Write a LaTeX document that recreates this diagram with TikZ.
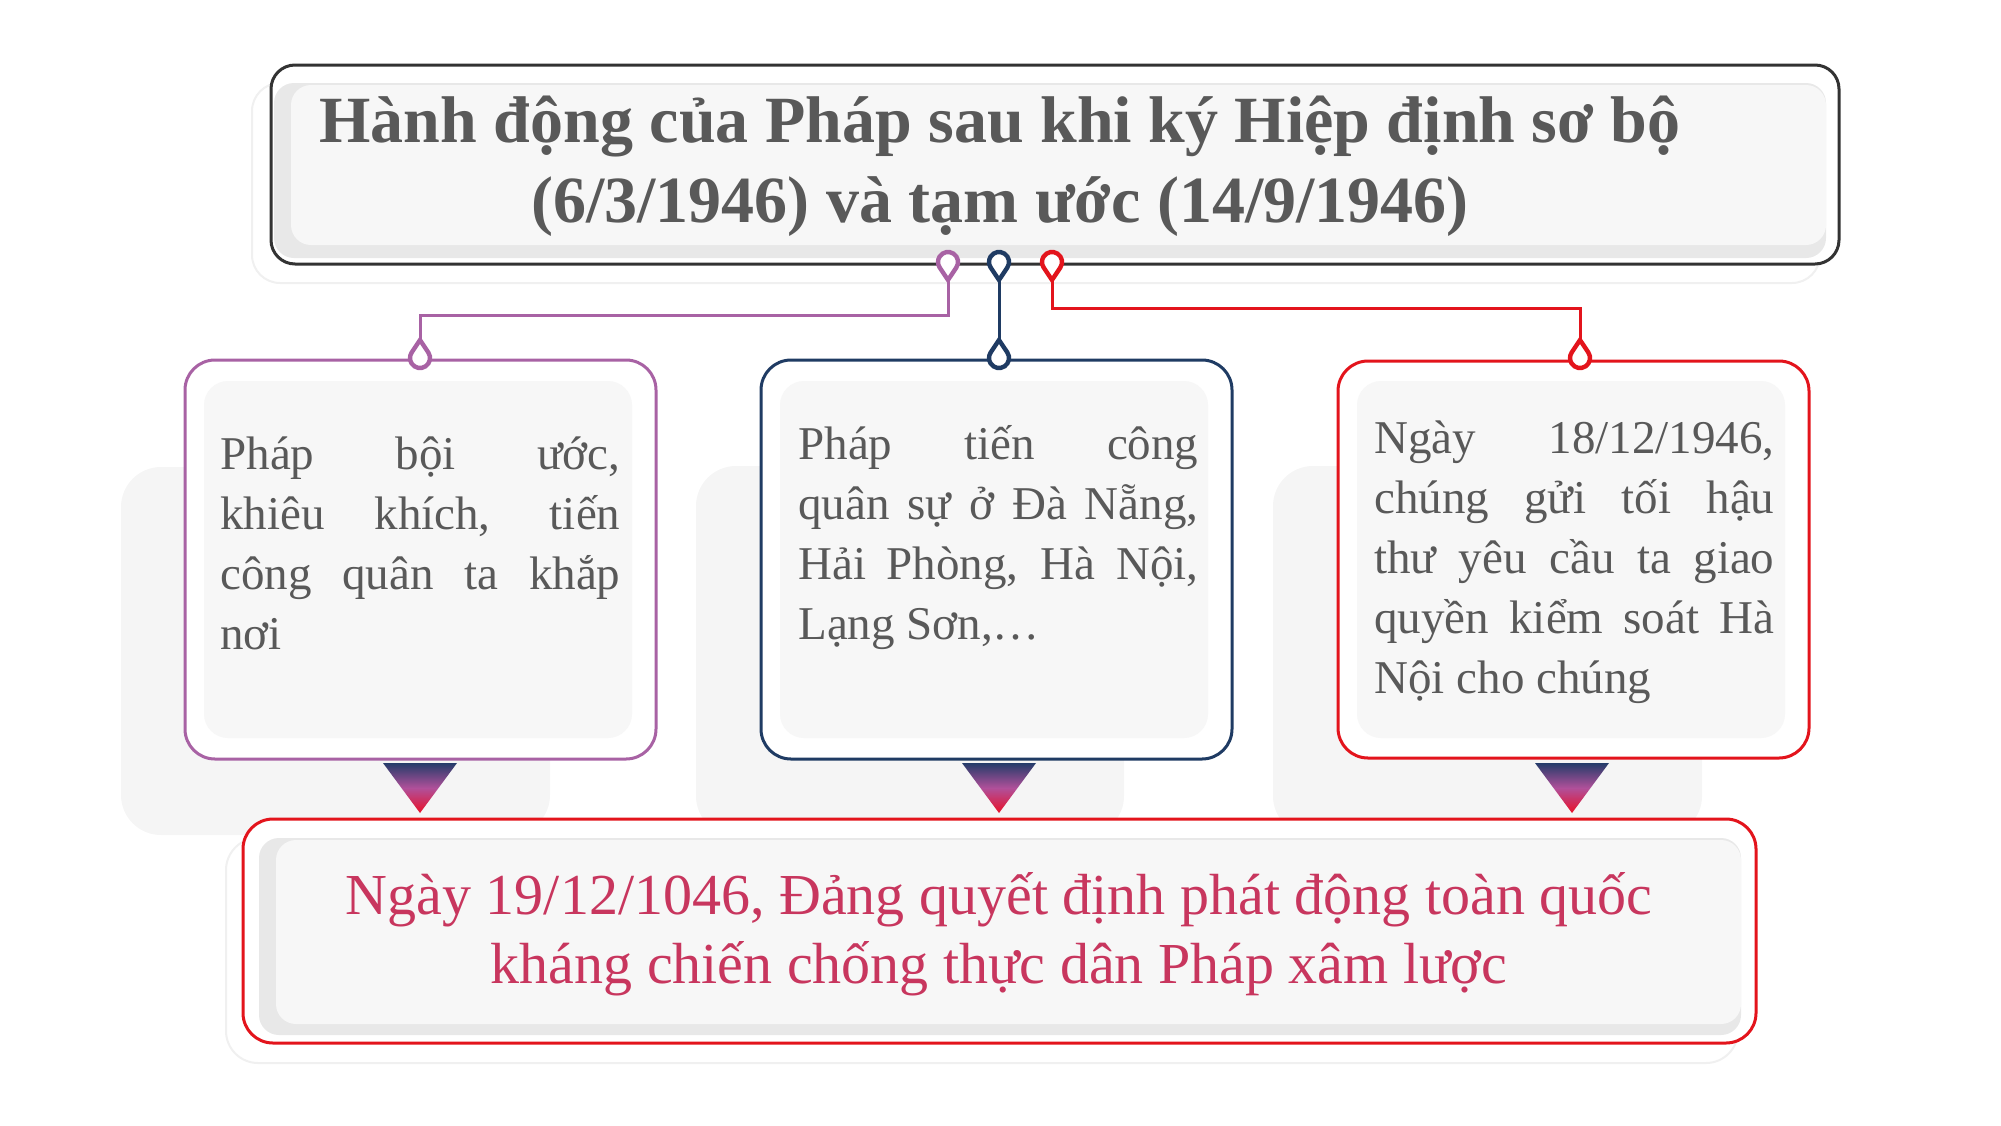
\documentclass[tikz,border=0pt]{standalone}
\usepackage{fontspec}
\setmainfont{Liberation Serif}
\usetikzlibrary{calc}
\definecolor{tgray}{HTML}{595959}
\definecolor{tcrim}{HTML}{C8365E}
\definecolor{pcol}{HTML}{A862A4}
\definecolor{ncol}{HTML}{1F3B63}
\definecolor{rcol}{HTML}{E3141C}
\definecolor{dcol}{HTML}{333333}
\definecolor{tnavy}{HTML}{243C6A}
\definecolor{tmag}{HTML}{B0509A}
\definecolor{tred}{HTML}{EA1028}
\definecolor{shd}{HTML}{F5F5F5}
\definecolor{pan}{HTML}{F7F7F7}
\definecolor{band}{HTML}{E8E8E8}
\hyphenpenalty=10000
\exhyphenpenalty=10000
\pgfdeclareverticalshading{trishade}{100bp}{color(0bp)=(tred); color(25bp)=(tred); color(50bp)=(tmag); color(75bp)=(tnavy); color(100bp)=(tnavy)}
\tikzset{
  box/.style={draw=#1, line width=1.5pt, fill=white, rounded corners=15pt, inner sep=0pt, outer sep=0pt},
  boxtext/.style={text width=200pt, align=justify, inner sep=0pt, anchor=base west, text=tgray,
    font=\fontsize{23.5}{30}\selectfont},
  conn/.style={draw=#1, line width=1.5pt},
  pics/pindown/.style={code={\draw[draw=#1, line width=2.2pt, fill=white] (0,18) -- (33.75:10) arc[start angle=33.75, end angle=-213.75, radius=10] -- cycle;}},
  pics/pinup/.style={code={\draw[draw=#1, line width=2.2pt, fill=white] (0,-18) -- (-33.75:10) arc[start angle=-33.75, end angle=213.75, radius=10] -- cycle;}},
}
\begin{document}
\hyphenpenalty=10000
\exhyphenpenalty=10000
\begin{tikzpicture}[x=0.5pt, y=-0.5pt]
\useasboundingbox (0,0) rectangle (2001,1125);
% faint shadows behind the middle row
\fill[shd, rounded corners=20pt] (121,467) rectangle (550,835);
\fill[shd, rounded corners=20pt] (696,466) rectangle (1124,836);
\fill[shd, rounded corners=20pt] (1273,466) rectangle (1702,836);
% top box
\draw[gray!12, line width=1pt, fill=white, rounded corners=14pt] (252,83) rectangle (1820,283);
\node[box=dcol, minimum width=784pt, minimum height=99.5pt, rounded corners=12pt] (top) at (1055,164.5) {};
\fill[band, rounded corners=10pt] (274,83) rectangle (1826,258);
\fill[pan, rounded corners=10pt] (291,85) rectangle (1826,245);
\node[inner sep=0pt, anchor=base, align=center, text=tgray, font=\bfseries\fontsize{33}{40}\selectfont] (ttl) at (1000,222)
  {Hành động của Pháp sau khi ký Hiệp định sơ bộ\\(6/3/1946) và tạm ước (14/9/1946)};
% middle boxes
\node[box=pcol, minimum width=235.5pt, minimum height=199.5pt] (b1) at (420.5,559.5) {};
\node[box=ncol, minimum width=235.5pt, minimum height=199.5pt] (b2) at (996.5,559.5) {};
\node[box=rcol, minimum width=235.5pt, minimum height=198.5pt] (b3) at (1573.5,559.5) {};
\fill[pan, rounded corners=12pt] (204,381) rectangle (632,738);
\fill[pan, rounded corners=12pt] (780,381) rectangle (1208,738);
\fill[pan, rounded corners=12pt] (1357,381) rectangle (1785,738);
\node[boxtext] (t1) at (220,469) {Pháp bội ước,\linebreak khiêu khích, tiến\linebreak công quân ta khắp\linebreak nơi};
\node[boxtext] (t2) at (798,459) {Pháp tiến công\linebreak quân sự ở Đà Nẵng,\linebreak Hải Phòng, Hà Nội,\linebreak Lạng Sơn,…};
\node[boxtext] (t3) at (1374,453) {Ngày 18/12/1946,\linebreak chúng gửi tối hậu\linebreak thư yêu cầu ta giao\linebreak quyền kiểm soát Hà\linebreak Nội cho chúng};
% bottom box
\draw[gray!12, line width=1pt, fill=white, rounded corners=16pt] (226,838) rectangle (1738,1063);
\node[box=rcol, minimum width=756.5pt, minimum height=112pt] (bot) at (999.5,931) {};
\fill[band, rounded corners=10pt] (259,838) rectangle (1741,1035);
\fill[pan, rounded corners=10pt] (276,840) rectangle (1741,1024);
\node[inner sep=0pt, anchor=base, align=center, text=tcrim, font=\fontsize{29}{34.5}\selectfont] (btx) at (999,983)
  {Ngày 19/12/1046, Đảng quyết định phát động toàn quốc\\kháng chiến chống thực dân Pháp xâm lược};
% gradient arrows
\shade[shading=trishade] (383,763) -- (457,763) -- (420,813) -- cycle;
\shade[shading=trishade] (962,763) -- (1036,763) -- (999,813) -- cycle;
\shade[shading=trishade] (1535,763) -- (1609,763) -- (1572,813) -- cycle;
% connector end points
\coordinate (tp1) at (948,280);
\coordinate (tp2) at (999,280);
\coordinate (tp3) at (1052,280);
\coordinate (bp1) at (420,340);
\coordinate (bp2) at (999,340);
\coordinate (bp3) at (1580,340);
\draw[conn=pcol] (tp1) -- ++(0,35) -| (bp1);
\draw[conn=ncol] (tp2) -- (bp2);
\draw[conn=rcol] (tp3) -- ++(0,28) -| (bp3);
% pins
\pic at (948,262) {pindown=pcol};
\pic at (999,262) {pindown=ncol};
\pic at (1052,262) {pindown=rcol};
\pic at (420,358) {pinup=pcol};
\pic at (999,358) {pinup=ncol};
\pic at (1580,358) {pinup=rcol};
\end{tikzpicture}
\end{document}
